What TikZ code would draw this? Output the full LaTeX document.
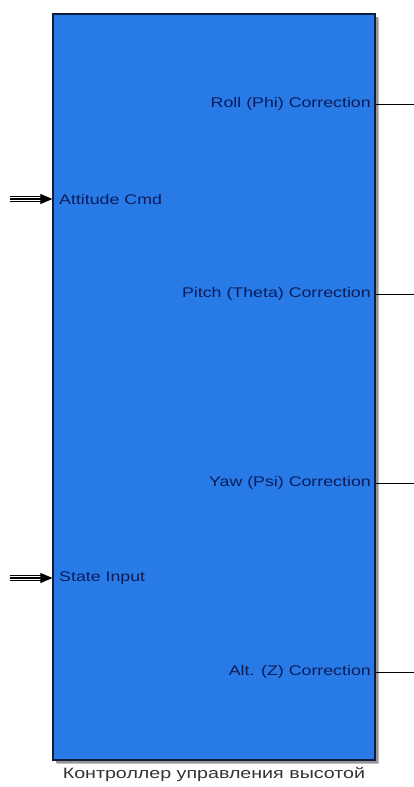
\documentclass[tikz,border=0pt]{standalone}
\usepackage{fontspec}
\setmainfont{Liberation Sans}
\usetikzlibrary{arrows.meta,calc}
\definecolor{blkfill}{RGB}{40,122,230}
\definecolor{blkedge}{RGB}{20,28,60}
\definecolor{lbl}{RGB}{10,28,90}
\definecolor{shadowc}{RGB}{150,150,150}
\tikzset{
  x=1pt,y=-1pt,
  portlbl/.style={font=\fontsize{14}{16}\selectfont, text=lbl, inner sep=0pt},
  outline/.style={draw=black, line width=1pt},
  busline/.style={draw=black, line width=1.1pt},
}
\newcommand{\wide}[2]{\scalebox{#1}[1]{#2}}
\begin{document}
\begin{tikzpicture}
\useasboundingbox (0,0) rectangle (414,787);
% shadow
\fill[shadowc!60] (57,18) rectangle (379,764);
\fill[shadowc] (56,17) rectangle (378,763);
% block
\node[draw=blkedge, line width=1.2pt, fill=blkfill, minimum width=322pt, minimum height=746pt, inner sep=0pt] (block) at (214,387) {};
% inputs
\node[portlbl, anchor=west] (in1) at (59,199) {\wide{1.27}{Attitude Cmd}};
\node[portlbl, anchor=west] (in2) at (59,578) {\wide{1.27}{State Input}};
% outputs
\node[portlbl, anchor=east] (out1) at (371,104) {\wide{1.27}{Roll (Phi) Correction}};
\node[portlbl, anchor=east] (out2) at (371,294) {\wide{1.27}{Pitch (Theta) Correction}};
\node[portlbl, anchor=east] (out3) at (371,483) {\wide{1.27}{Yaw (Psi) Correction}};
\node[portlbl, anchor=east] (out4) at (371,672) {\wide{1.27}{Alt. (Z) Correction}};
% output lines
\foreach \n/\y in {o1/104,o2/294,o3/483,o4/672}{
  \coordinate (\n) at (414,\y);
  \draw[outline] (block.east |- \n) -- (\n);
}
% bus input arrows
\foreach \n/\y in {i1/199,i2/578}{
  \coordinate (\n) at (10,\y);
  \coordinate (\n t) at (44,\y);
  \draw[busline] ($(\n)+(0,-2.6)$) -- ($(\n t)+(0,-2.6)$);
  \draw[busline] ($(\n)+(0,2.6)$) -- ($(\n t)+(0,2.6)$);
  \draw[busline, -{Triangle[length=12pt,width=10pt]}] (\n) -- (block.west |- \n);
}
% caption
\node[font=\fontsize{15}{17}\selectfont, text=black!80, anchor=north] (cap) at (214,764) {\wide{1.31}{Контроллер управления высотой}};
\end{tikzpicture}
\end{document}
